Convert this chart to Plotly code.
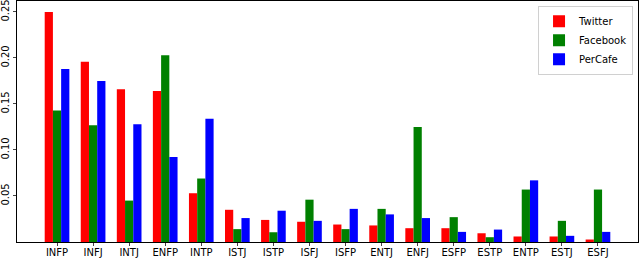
import plotly.graph_objects as go

categories = ["INFP", "INFJ", "INTJ", "ENFP", "INTP", "ISTJ", "ISTP", "ISFJ",
              "ISFP", "ENTJ", "ENFJ", "ESFP", "ESTP", "ENTP", "ESTJ", "ESFJ"]
twitter = [0.250, 0.196, 0.166, 0.164, 0.053, 0.035, 0.024, 0.022,
           0.019, 0.018, 0.015, 0.015, 0.0095, 0.006, 0.006, 0.0027]
facebook = [0.143, 0.127, 0.045, 0.203, 0.069, 0.014, 0.0106, 0.046,
            0.014, 0.036, 0.125, 0.027, 0.0052, 0.057, 0.023, 0.057]
percafe = [0.188, 0.175, 0.128, 0.0925, 0.134, 0.026, 0.034, 0.023,
           0.036, 0.030, 0.026, 0.011, 0.0135, 0.067, 0.0067, 0.011]
series_names = ["Twitter", "Facebook", "PerCafe"]
series_colors = ["red", "green", "blue"]
yticks = [0.05, 0.10, 0.15, 0.20, 0.25]

x = list(range(len(categories)))
w = 0.228
fig = go.Figure()
for vals, name, col, off in zip([twitter, facebook, percafe], series_names,
                                series_colors, [-w, 0, w]):
    fig.add_trace(go.Bar(x=x, y=vals, name=name, marker_color=col,
                         marker_line_width=0, width=w, offset=off - w / 2))

fig.update_layout(
    width=640, height=258,
    margin=dict(l=17, r=2, t=1, b=16),
    plot_bgcolor="white", paper_bgcolor="white",
    font=dict(family="DejaVu Sans", size=10, color="black"),
    barmode="overlay",
    showlegend=True,
    legend=dict(x=0.992, y=0.98, xanchor="right", yanchor="top",
                bordercolor="#d0d0d0", borderwidth=1, bgcolor="white",
                font=dict(size=10), tracegroupgap=0, itemwidth=30),
)
fig.update_xaxes(range=[-1.11, 16.11], tickmode="array", tickvals=x,
                 ticktext=categories, showline=True, linecolor="black",
                 linewidth=1, mirror=True, ticks="outside", ticklen=3,
                 showgrid=False, zeroline=False, automargin=False,
                 ticklabelstandoff=-2)
fig.update_yaxes(range=[0, 0.2619], tickmode="array", tickvals=yticks,
                 ticktext=[f"{v:.2f}" for v in yticks], tickangle=-90,
                 showline=True, linecolor="black", linewidth=1, mirror=True,
                 ticks="outside", ticklen=3, showgrid=False, zeroline=False,
                 automargin=False, ticklabeloverflow="allow")

fig.write_html("out.html", config={"displayModeBar": False},
               post_script="document.body.style.margin='0';document.body.style.overflow='hidden';")
